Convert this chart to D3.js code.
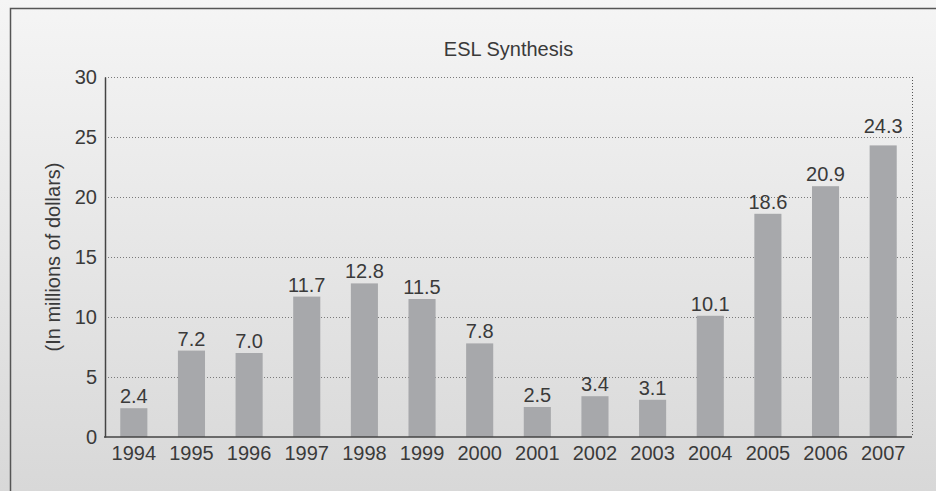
<!DOCTYPE html>
<html>
<head>
<meta charset="utf-8">
<script src="https://cdn.jsdelivr.net/npm/d3@7"></script>
<style>
  html, body { margin: 0; padding: 0; }
  body { width: 936px; height: 491px; overflow: hidden; }
  svg { display: block; font-family: "Liberation Sans", Arial, sans-serif; }
</style>
</head>
<body>
<svg id="chart" width="936" height="491"></svg>
<script>
// chart data
var years = ["1994", "1995", "1996", "1997", "1998", "1999", "2000",
             "2001", "2002", "2003", "2004", "2005", "2006", "2007"];
var values = [2.4, 7.2, 7.0, 11.7, 12.8, 11.5, 7.8, 2.5, 3.4, 3.1, 10.1, 18.6, 20.9, 24.3];
var yTicks = [0, 5, 10, 15, 20, 25, 30];
var title = "ESL Synthesis";
var yTitle = "(In millions of dollars)";

function renderChart() {
  const svg = d3.select("#chart"),
    width = 936,
    height = 491,
    margin = { top: 77, right: 24, bottom: 54, left: 105 };

  const textColor = "#3a3a3a";
  const barColor = "#a7a8ab";

  // background gradient
  const grad = svg.append("defs").append("linearGradient")
    .attr("id", "bg").attr("x1", 0).attr("y1", 0).attr("x2", 0).attr("y2", 1);
  grad.append("stop").attr("offset", "0%").attr("stop-color", "#f5f5f5");
  grad.append("stop").attr("offset", "100%").attr("stop-color", "#d8d8d8");
  svg.append("rect").attr("width", width).attr("height", height).attr("fill", "url(#bg)");

  // outer frame (only top and left edges are in view)
  svg.append("path")
    .attr("d", `M10.5,${height} V8.5 H${width}`)
    .attr("fill", "none")
    .attr("stroke", "#555")
    .attr("stroke-width", 1.5);

  const x = d3.scaleBand()
    .domain(years)
    .range([margin.left, width - margin.right])
    .paddingInner(0.53)
    .paddingOuter(0.265);

  const y = d3.scaleLinear()
    .domain([0, 30])
    .range([height - margin.bottom, margin.top]);

  // dotted grid lines
  svg.append("g")
    .selectAll("line")
    .data(yTicks.filter((d) => d > 0))
    .enter()
    .append("line")
    .attr("x1", margin.left)
    .attr("x2", width - margin.right)
    .attr("y1", (d) => Math.round(y(d)) + 0.5)
    .attr("y2", (d) => Math.round(y(d)) + 0.5)
    .attr("stroke", "#7a7a7a")
    .attr("stroke-width", 1)
    .attr("stroke-dasharray", "1,2");

  // dotted right border
  svg.append("line")
    .attr("x1", width - margin.right + 0.5)
    .attr("x2", width - margin.right + 0.5)
    .attr("y1", y(30))
    .attr("y2", y(0))
    .attr("stroke", "#555")
    .attr("stroke-width", 1)
    .attr("stroke-dasharray", "1,2");

  // bars
  svg.append("g")
    .selectAll("rect")
    .data(values)
    .enter()
    .append("rect")
    .attr("x", (d, i) => x(years[i]))
    .attr("y", (d) => y(d))
    .attr("width", x.bandwidth())
    .attr("height", (d) => y(0) - y(d))
    .attr("fill", barColor);

  // label position: just above the bar, or above the next grid line
  // when the bar top sits right under it
  function labelY(d) {
    const above = yTicks.find((t) => t > d);
    if (above !== undefined && y(d) - y(above) < 10) return y(above) - 4;
    return y(d) - 5;
  }

  // value labels
  svg.append("g")
    .selectAll("text")
    .data(values)
    .enter()
    .append("text")
    .attr("x", (d, i) => x(years[i]) + x.bandwidth() / 2)
    .attr("y", (d) => labelY(d))
    .attr("text-anchor", "middle")
    .attr("font-size", "20px")
    .attr("fill", textColor)
    .text((d) => d.toFixed(1));

  // axes
  const yAxis = svg.append("g")
    .attr("transform", `translate(${margin.left},0)`)
    .call(d3.axisLeft(y).tickValues(yTicks).tickSize(0).tickPadding(8));
  yAxis.select(".domain").attr("stroke", "#444").attr("stroke-width", 1.5);
  yAxis.selectAll("text").attr("font-size", "20px").attr("fill", textColor)
    .attr("font-family", null);

  const xAxis = svg.append("g")
    .attr("transform", `translate(0,${height - margin.bottom})`)
    .call(d3.axisBottom(x).tickSize(0).tickPadding(9).tickSizeOuter(0));
  xAxis.select(".domain")
    .attr("d", `M${margin.left - 1},0H${width - margin.right}`)
    .attr("stroke", "#444").attr("stroke-width", 1.5);
  xAxis.selectAll("text").attr("font-size", "20px").attr("fill", textColor)
    .attr("font-family", null);

  // title
  svg.append("text")
    .attr("x", (margin.left + width - margin.right) / 2)
    .attr("y", 56)
    .attr("text-anchor", "middle")
    .attr("font-size", "20px")
    .attr("fill", textColor)
    .text(title);

  // y axis title
  svg.append("text")
    .attr("transform", `translate(60,${(y(0) + y(30)) / 2}) rotate(-90)`)
    .attr("text-anchor", "middle")
    .attr("font-size", "20px")
    .attr("fill", textColor)
    .text(yTitle);
}

renderChart();
</script>
</body>
</html>
